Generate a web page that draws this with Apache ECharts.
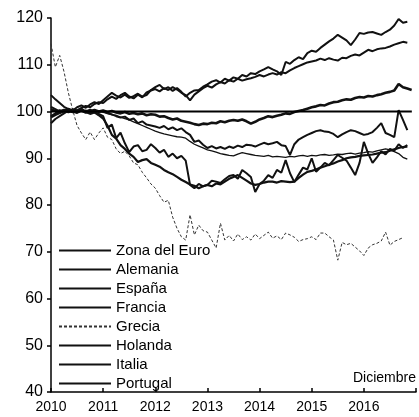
<!DOCTYPE html>
<html>
<head>
<meta charset="utf-8">
<script src="https://cdn.jsdelivr.net/npm/echarts@6/dist/echarts.min.js"></script>
<style>html,body{margin:0;padding:0;background:#fff}#c{width:419px;height:417px}</style>
</head>
<body>
<div id="c"></div>
<script>
const startYear = 2010;
const yearTicks = [2010, 2011, 2012, 2013, 2014, 2015, 2016];
const seriesNames = ['Zona del Euro','Alemania','España','Francia','Grecia','Holanda','Italia','Portugal'];
const baseLine = [100, 100];
const baseLineX = [2010, 2016.92];

const zonaEuro = [98.8,99.3,99.7,100.1,99.9,100.3,100.0,100.2,99.8,100.1,100.3,100.0,
100.2,99.9,100.1,99.8,99.6,99.9,99.5,99.7,99.4,99.6,99.2,99.4,
99.3,98.9,99.0,98.6,98.3,98.5,98.0,97.8,97.6,97.3,97.1,97.4,
97.3,97.6,97.5,97.9,97.7,98.0,98.2,98.0,98.3,97.9,97.4,97.8,
98.3,98.6,99.0,98.8,99.1,99.3,99.6,99.5,99.9,100.1,100.3,100.6,
100.9,101.1,101.4,101.3,101.7,102.0,102.1,102.4,102.6,102.5,102.9,103.1,
103.0,103.3,103.2,103.5,103.7,104.0,104.2,104.5,105.9,105.2,104.9,104.6];

const alemania = [99.0,99.6,100.3,100.0,100.6,100.2,100.9,101.3,100.8,101.5,102.0,101.6,
102.4,103.2,104.0,103.4,103.0,103.6,102.9,103.3,103.8,103.2,103.5,104.6,
105.2,105.7,104.8,105.2,104.4,105.0,104.2,103.2,104.0,104.5,104.6,105.3,
105.8,106.4,106.7,106.2,107.0,106.6,107.3,107.0,107.8,107.5,108.2,108.0,
108.6,109.0,109.5,109.0,108.6,107.8,110.6,110.2,111.0,111.6,111.2,112.5,
113.0,112.8,113.6,114.3,115.0,115.6,116.4,115.8,115.2,114.2,115.4,116.8,
116.6,116.9,117.0,116.7,116.4,117.0,117.5,118.4,119.8,119.0,119.2];

const espana = [100.5,100.1,99.7,100.2,100.5,100.0,99.7,100.2,99.9,99.5,99.8,99.2,
98.5,97.0,95.0,94.2,92.8,92.0,91.0,90.3,89.2,89.6,89.8,89.0,
88.6,88.2,87.5,87.0,86.6,86.0,85.4,84.9,84.4,84.1,83.6,84.0,
84.3,84.0,84.6,84.4,85.0,85.6,86.0,86.4,85.8,85.2,84.6,84.3,
84.5,84.8,85.0,85.0,84.8,85.1,85.0,84.9,85.0,85.8,86.5,87.1,
87.3,87.6,88.0,88.3,88.6,88.9,89.3,89.6,90.0,90.2,90.3,90.5,
90.6,90.7,90.8,91.0,91.2,91.3,91.6,91.9,92.2,92.4,92.5];

const francia = [103.5,102.6,101.8,101.0,100.5,100.2,99.8,100.3,100.0,99.7,100.2,99.9,
100.1,99.6,99.4,99.0,98.7,98.9,98.2,98.5,97.5,97.9,97.2,97.0,
96.8,96.5,96.9,96.2,96.6,96.0,96.4,95.6,95.0,93.5,93.8,92.9,
92.2,92.6,92.1,92.4,92.0,92.5,92.2,92.7,92.4,92.9,92.8,92.5,
92.9,93.3,93.0,93.2,93.5,92.8,92.6,90.7,93.0,94.0,94.5,95.0,
95.4,95.8,96.0,95.7,95.6,95.2,94.5,95.1,95.6,96.0,95.8,95.4,
95.0,95.2,95.6,96.5,97.5,95.4,95.0,94.5,100.3,98.2,96.0];

const grecia = [114.5,109.5,112.0,108.5,104.0,100.3,97.0,95.4,94.0,95.6,94.0,95.4,
96.5,94.5,94.0,92.0,91.0,91.5,90.5,89.0,88.6,87.0,85.8,84.5,
83.6,82.0,80.6,81.0,77.4,75.0,73.2,72.5,77.9,73.6,75.7,74.5,
74.2,72.5,70.8,76.1,72.5,73.5,72.3,73.8,72.6,73.2,72.5,73.8,
72.8,73.5,74.2,72.9,73.4,72.6,74.0,73.6,73.1,72.2,72.6,72.8,
73.2,72.6,74.0,74.0,73.2,72.5,68.2,72.0,71.5,71.8,71.0,70.2,
69.2,70.8,71.5,71.8,72.3,74.2,71.4,72.2,72.6,73.0];

const holanda = [101.0,100.5,100.0,100.4,99.9,100.5,100.2,100.8,101.2,100.9,101.6,102.0,
101.8,102.6,103.2,102.7,103.5,104.0,103.2,102.8,103.6,103.0,104.1,104.5,
104.8,104.3,105.0,104.6,105.2,104.7,104.0,103.5,102.4,103.6,104.3,105.0,
105.5,105.1,105.8,106.3,106.0,106.7,106.4,107.0,106.6,106.9,107.1,107.4,
107.8,107.5,107.9,108.2,107.9,108.4,108.2,108.8,109.3,109.7,110.1,110.5,
110.7,110.9,111.3,111.0,111.4,111.1,110.9,111.5,111.4,111.9,112.2,112.0,
112.6,113.2,112.9,113.3,113.5,113.6,113.9,114.3,114.6,114.9,114.7];

const italia = [100.5,100.2,100.0,100.4,100.1,99.8,100.2,100.0,100.3,99.9,99.8,100.1,
99.8,99.6,99.3,99.2,98.8,98.5,98.2,97.8,97.4,97.0,96.6,96.2,
95.8,95.5,95.2,95.0,94.8,94.6,94.5,94.3,93.6,93.0,92.6,92.2,
91.8,91.6,91.3,91.0,90.8,90.6,90.5,90.9,91.2,91.0,90.8,90.6,
90.5,90.4,90.6,90.3,90.4,90.3,90.2,90.4,90.3,90.5,90.6,90.4,
90.6,90.5,90.7,90.8,90.6,90.7,90.9,90.8,91.0,91.1,90.9,91.1,
91.2,91.4,91.3,91.6,91.8,92.0,91.8,91.4,91.0,90.2,89.8];

const portugal = [97.5,98.4,99.0,99.6,100.2,99.8,100.3,100.6,100.0,100.4,99.8,99.5,
99.0,96.5,97.2,94.3,95.5,93.2,91.3,92.5,92.8,91.5,91.8,93.0,
92.2,91.2,91.8,90.3,91.0,90.0,90.5,89.5,84.3,83.6,84.5,84.0,
84.3,85.2,85.0,84.7,85.5,86.2,86.4,85.6,87.5,86.8,86.0,82.8,
84.5,85.2,86.4,85.8,87.5,86.9,89.6,86.8,84.9,86.5,88.0,87.6,
90.0,87.1,88.0,89.0,88.5,89.6,90.7,90.1,89.5,88.0,86.4,89.0,
93.5,91.0,89.0,90.2,91.5,90.8,92.0,91.6,93.0,92.2,92.8];

const seriesValues = [zonaEuro, alemania, espana, francia, grecia, holanda, italia, portugal];
const widths = [2.6, 2, 2.2, 2, 1, 2, 1.3, 2];

function toPairs(arr) {
  return arr.map((v, i) => [startYear + i / 12, v]);
}

const series = seriesNames.map((name, k) => ({
  name: name,
  type: 'line',
  data: toPairs(seriesValues[k]),
  symbol: 'none',
  lineStyle: {
    color: k === 4 ? '#333' : '#111',
    width: widths[k],
    type: k === 4 ? [3, 2] : 'solid'
  },
  itemStyle: { color: k === 4 ? '#333' : '#111' },
  z: 3
}));

series.push({
  name: 'base',
  type: 'line',
  data: baseLineX.map((x, i) => [x, baseLine[i]]),
  symbol: 'none',
  lineStyle: { color: '#000', width: 2 },
  z: 4
});

const chart = echarts.init(document.getElementById('c'), null, { renderer: 'canvas' });
chart.setOption({
  animation: false,
  backgroundColor: '#fff',
  textStyle: { fontFamily: 'Liberation Sans, Arial, sans-serif' },
  grid: { left: 51, right: 2, top: 18, bottom: 25, containLabel: false },
  xAxis: {
    type: 'value', min: 2010, max: 2017, interval: 1,
    axisLine: { lineStyle: { color: '#000', width: 1.5 } },
    axisTick: { inside: true, length: 4, lineStyle: { color: '#000', width: 1.5 } },
    axisLabel: {
      color: '#000', fontSize: 14, margin: 8,
      formatter: v => (yearTicks.indexOf(v) >= 0 ? String(v) : '')
    },
    splitLine: { show: false }
  },
  yAxis: {
    type: 'value', min: 40, max: 120, interval: 10,
    axisLine: { show: true, lineStyle: { color: '#000', width: 1.5 } },
    axisTick: { show: true, length: 4, lineStyle: { color: '#000', width: 1.5 } },
    axisLabel: { color: '#000', fontSize: 16, margin: 8 },
    splitLine: { show: false }
  },
  legend: {
    data: seriesNames,
    orient: 'vertical',
    left: 58, top: 243, padding: 0,
    itemWidth: 52, itemHeight: 14, itemGap: 4,
    itemStyle: { opacity: 0 },
    textStyle: { color: '#000', fontSize: 15, lineHeight: 14 },
    selectedMode: false
  },
  graphic: [{
    type: 'text', right: 3, top: 371,
    style: { text: 'Diciembre', fill: '#000', font: '14px Liberation Sans, Arial, sans-serif' }
  }],
  series: series
});
</script>
</body>
</html>
